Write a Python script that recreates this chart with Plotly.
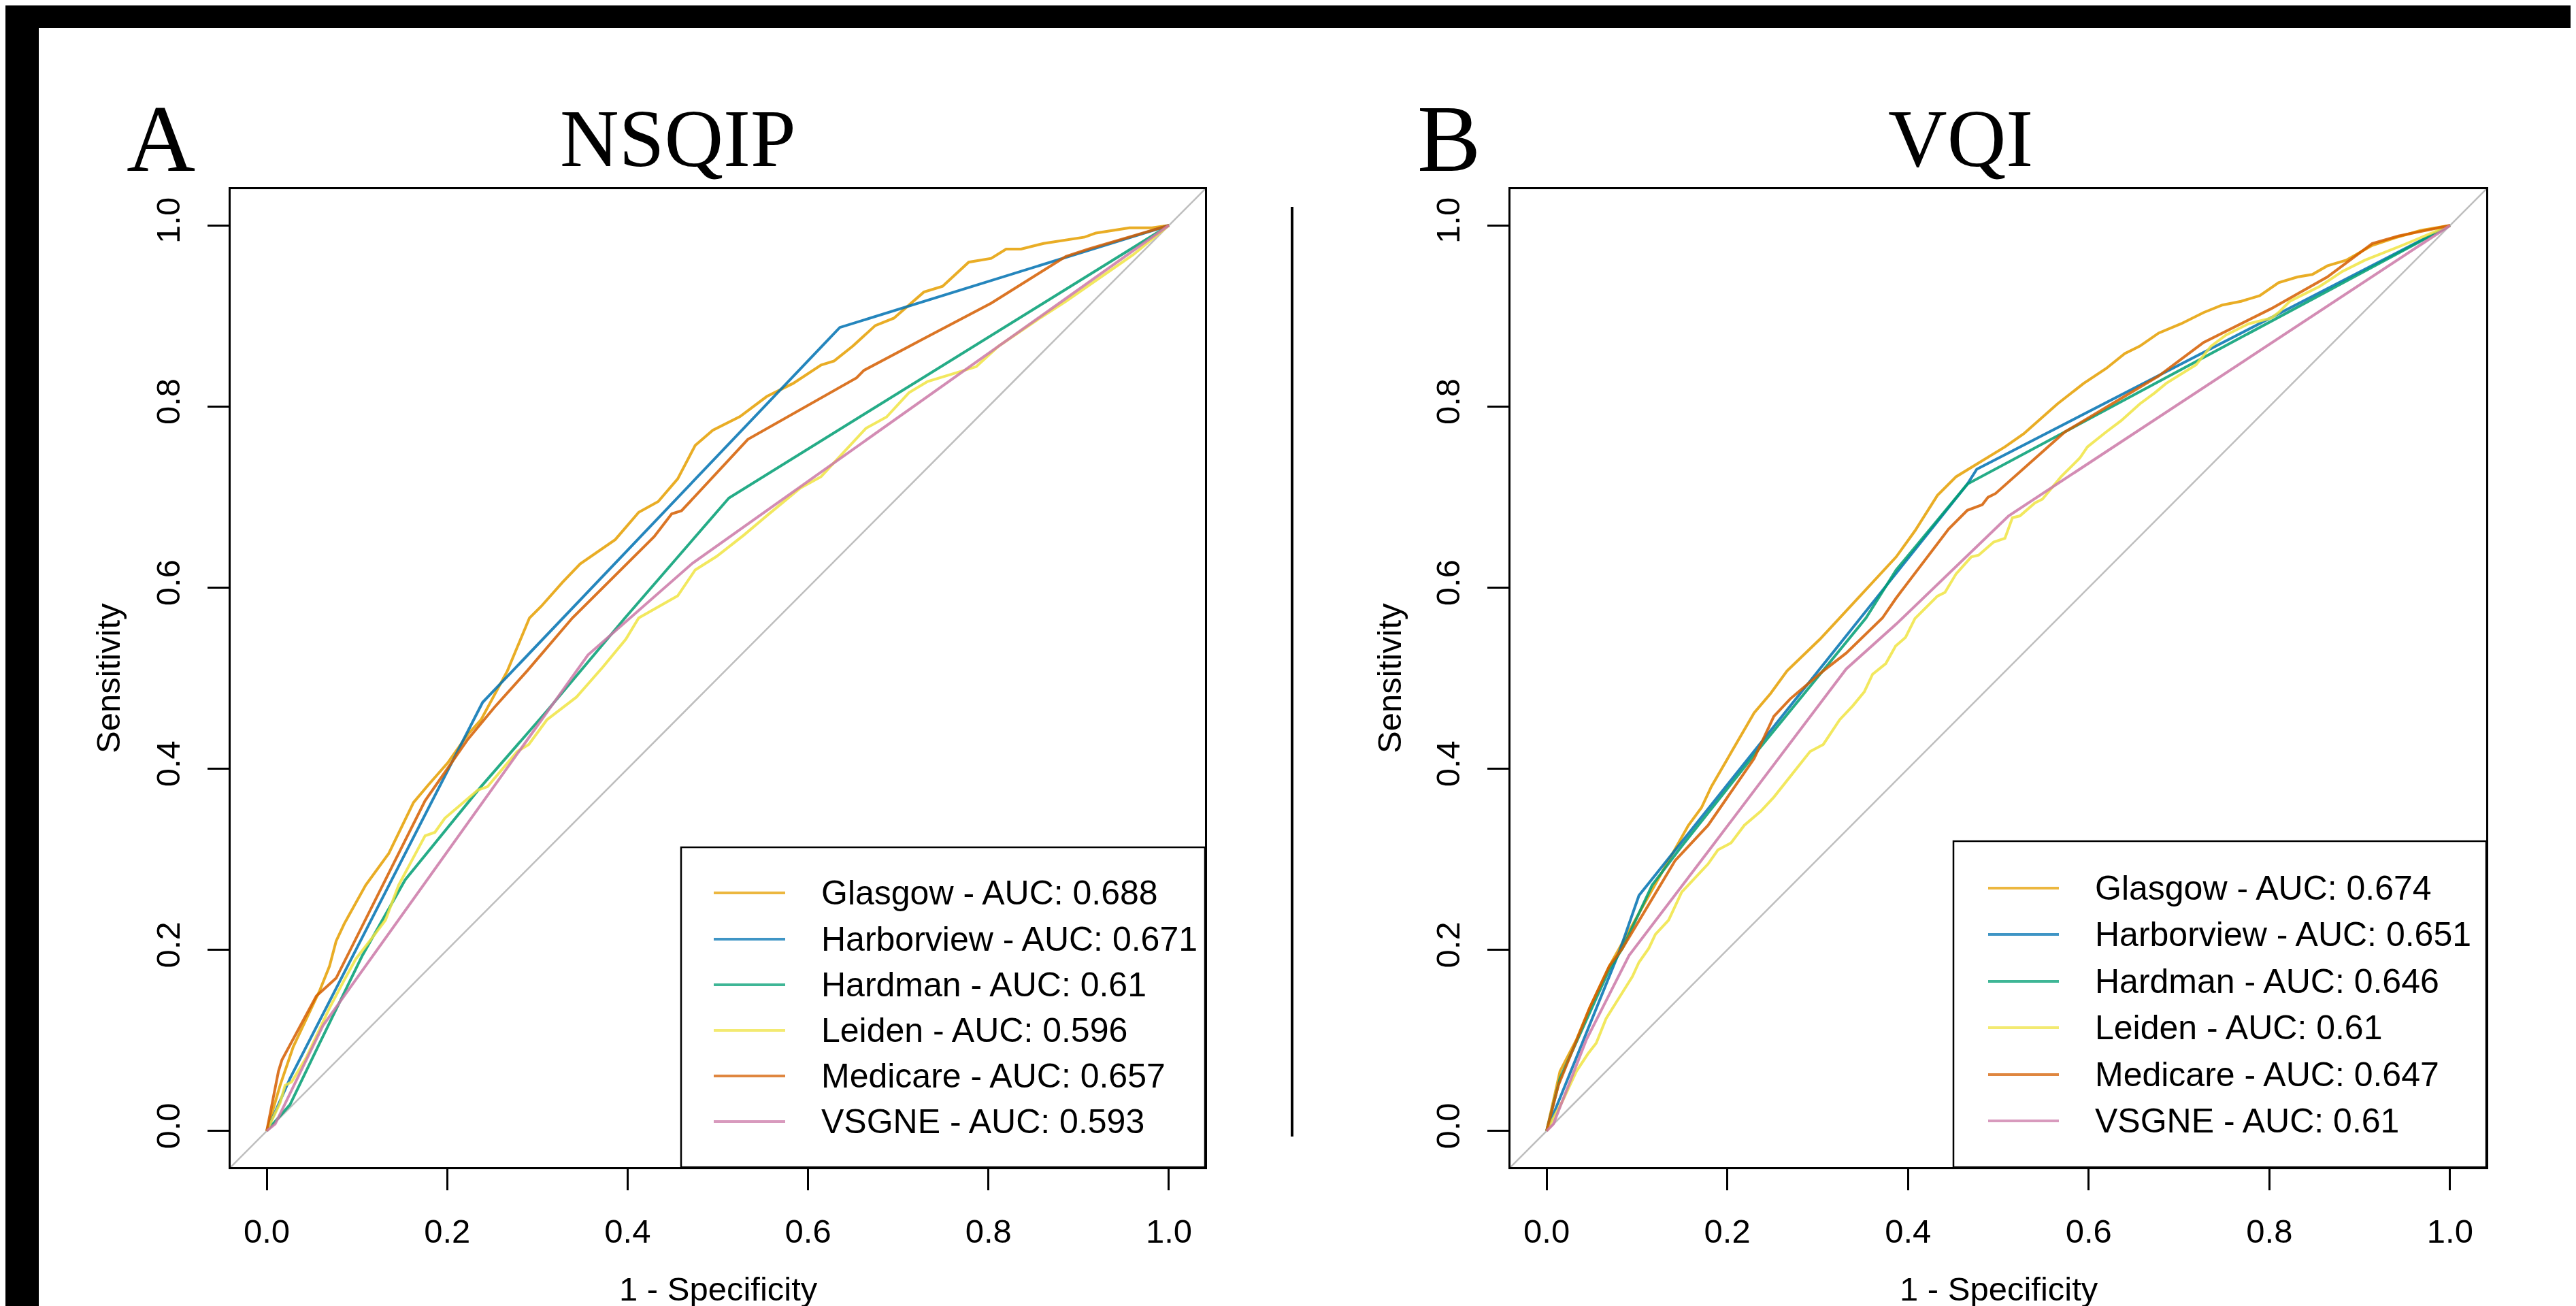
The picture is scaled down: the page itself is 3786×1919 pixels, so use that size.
import plotly.graph_objects as go

W, H = 3786, 1919

# ---------------- data ----------------
models = ["Glasgow", "Harborview", "Hardman", "Leiden", "Medicare", "VSGNE"]
colors = ["#E69F00", "#0072B2", "#009E73", "#F0E442", "#D55E00", "#CC79A7"]
nsqip_auc = ["0.688", "0.671", "0.61", "0.596", "0.657", "0.593"]
vqi_auc = ["0.674", "0.651", "0.646", "0.61", "0.647", "0.61"]
tick_vals = [0.0, 0.2, 0.4, 0.6, 0.8, 1.0]
tick_text = ["0.0", "0.2", "0.4", "0.6", "0.8", "1.0"]

# NSQIP (panel A)
nsqip_glasgow_fpr = [0, 0.0148, 0.0294, 0.044, 0.0587, 0.0696, 0.0769, 0.086, 0.1097, 0.1353, 0.1627, 0.179, 0.201, 0.223, 0.2375, 0.2667, 0.281, 0.2912, 0.3042, 0.328, 0.3474, 0.3863, 0.4123, 0.4339, 0.4555, 0.4749, 0.4944, 0.5246, 0.5543, 0.5834, 0.6145, 0.6289, 0.6496, 0.6745, 0.6952, 0.7284, 0.7491, 0.7781, 0.803, 0.8196, 0.8361, 0.861, 0.9066, 0.919, 0.9563, 0.9812, 1.0]
nsqip_glasgow_sens = [0, 0.0503, 0.093, 0.124, 0.155, 0.182, 0.2095, 0.229, 0.2715, 0.3065, 0.3627, 0.382, 0.407, 0.438, 0.454, 0.508, 0.543, 0.5665, 0.5793, 0.606, 0.6262, 0.653, 0.6832, 0.695, 0.7201, 0.757, 0.7738, 0.7889, 0.8111, 0.8255, 0.8459, 0.8503, 0.8667, 0.8894, 0.8976, 0.9264, 0.9327, 0.9594, 0.9636, 0.9739, 0.9739, 0.9801, 0.9871, 0.9916, 0.9974, 0.9974, 1.0]

nsqip_harborview_fpr = [0, 0.0258, 0.2393, 0.6352, 1.0]
nsqip_harborview_sens = [0, 0.058, 0.4733, 0.8873, 1.0]

nsqip_hardman_fpr = [0, 0.0258, 0.0587, 0.1061, 0.1535, 0.2375, 0.3105, 0.3971, 0.5123, 1.0]
nsqip_hardman_sens = [0, 0.029, 0.097, 0.194, 0.2774, 0.3802, 0.4637, 0.5665, 0.699, 1.0]

nsqip_leiden_fpr = [0, 0.0148, 0.0203, 0.0276, 0.044, 0.0696, 0.086, 0.0988, 0.117, 0.1316, 0.1462, 0.1608, 0.1755, 0.1864, 0.1974, 0.2156, 0.2338, 0.2448, 0.2776, 0.2904, 0.3105, 0.3434, 0.3725, 0.398, 0.4123, 0.4555, 0.4749, 0.4987, 0.529, 0.5549, 0.5916, 0.6144, 0.6372, 0.6642, 0.687, 0.7118, 0.7325, 0.7532, 0.7864, 0.8113, 0.8569, 0.8858, 0.9273, 0.9605, 1.0]
nsqip_leiden_sens = [0, 0.031, 0.0503, 0.0542, 0.0814, 0.1358, 0.1668, 0.190, 0.2134, 0.2328, 0.2715, 0.2987, 0.3259, 0.3298, 0.3453, 0.3608, 0.3763, 0.3802, 0.419, 0.4268, 0.454, 0.4792, 0.5122, 0.543, 0.5665, 0.5909, 0.6195, 0.6345, 0.6581, 0.6799, 0.7101, 0.7225, 0.7472, 0.776, 0.7884, 0.8152, 0.8276, 0.8337, 0.844, 0.8667, 0.8976, 0.9162, 0.945, 0.9677, 1.0]

nsqip_medicare_fpr = [0, 0.013, 0.0168, 0.033, 0.055, 0.0769, 0.1755, 0.223, 0.2521, 0.2886, 0.3388, 0.4295, 0.4489, 0.4598, 0.5333, 0.6538, 0.662, 0.7284, 0.803, 0.8858, 0.9108, 1.0]
nsqip_medicare_sens = [0, 0.0659, 0.0783, 0.1086, 0.149, 0.1687, 0.3647, 0.4326, 0.4675, 0.508, 0.5665, 0.6564, 0.6815, 0.6849, 0.7637, 0.8317, 0.84, 0.875, 0.9141, 0.9657, 0.9739, 1.0]

nsqip_vsgne_fpr = [0, 0.0094, 0.0623, 0.3561, 0.472, 0.626, 1.0]
nsqip_vsgne_sens = [0, 0.0077, 0.1163, 0.5257, 0.627, 0.736, 1.0]

# VQI (panel B)
vqi_glasgow_fpr = [0, 0.0148, 0.033, 0.0476, 0.0694, 0.1569, 0.1714, 0.1823, 0.2297, 0.2479, 0.2661, 0.3025, 0.3243, 0.355, 0.3869, 0.4077, 0.4326, 0.4533, 0.4741, 0.5073, 0.528, 0.5654, 0.5944, 0.6193, 0.64, 0.6566, 0.6774, 0.7023, 0.7272, 0.7479, 0.7687, 0.7894, 0.8102, 0.831, 0.8476, 0.8641, 0.8849, 0.9139, 0.9388, 0.9678, 1.0]
vqi_glasgow_sens = [0, 0.0659, 0.1008, 0.1358, 0.182, 0.3375, 0.357, 0.3802, 0.4617, 0.4831, 0.508, 0.543, 0.5665, 0.60, 0.6339, 0.6627, 0.7019, 0.7225, 0.7349, 0.7554, 0.7699, 0.8029, 0.8255, 0.842, 0.8585, 0.8667, 0.8811, 0.8914, 0.9038, 0.9121, 0.9162, 0.9224, 0.9368, 0.943, 0.9458, 0.9553, 0.9615, 0.978, 0.9862, 0.9945, 1.0]

vqi_harborview_fpr = [0, 0.0804, 0.1022, 0.4657, 0.4761, 1.0]
vqi_harborview_sens = [0, 0.1978, 0.26, 0.7143, 0.7307, 1.0]

vqi_hardman_fpr = [0, 0.0148, 0.0694, 0.084, 0.1168, 0.1495, 0.2297, 0.3535, 0.3869, 0.4657, 1.0]
vqi_hardman_sens = [0, 0.0581, 0.1784, 0.2017, 0.2715, 0.3143, 0.4152, 0.5665, 0.6195, 0.7143, 1.0]

vqi_leiden_fpr = [0, 0.0185, 0.033, 0.0458, 0.0549, 0.0658, 0.0804, 0.095, 0.1022, 0.1131, 0.1204, 0.135, 0.1495, 0.1641, 0.1787, 0.1896, 0.2042, 0.2188, 0.237, 0.2515, 0.2697, 0.2916, 0.3062, 0.3243, 0.3389, 0.3517, 0.3608, 0.3754, 0.3863, 0.3973, 0.4077, 0.4326, 0.4409, 0.4533, 0.47, 0.4782, 0.4948, 0.5073, 0.5156, 0.5239, 0.5405, 0.5488, 0.5695, 0.582, 0.5902, 0.5986, 0.611, 0.6193, 0.6359, 0.6566, 0.6733, 0.6857, 0.7189, 0.7355, 0.7521, 0.777, 0.8019, 0.8102, 0.8226, 0.8392, 0.8558, 0.8683, 0.8807, 0.9056, 0.9264, 0.9471, 1.0]
vqi_leiden_sens = [0, 0.0349, 0.0659, 0.0853, 0.0969, 0.1241, 0.1473, 0.1706, 0.1862, 0.2017, 0.2172, 0.2328, 0.2638, 0.2793, 0.2948, 0.3104, 0.3181, 0.3375, 0.353, 0.3686, 0.3919, 0.419, 0.4268, 0.454, 0.4695, 0.485, 0.5044, 0.5161, 0.5355, 0.5451, 0.5659, 0.5906, 0.5947, 0.6153, 0.6339, 0.6359, 0.6503, 0.6545, 0.6772, 0.6792, 0.6936, 0.6977, 0.7225, 0.7349, 0.7431, 0.7554, 0.7657, 0.7719, 0.7843, 0.8029, 0.8152, 0.8255, 0.8461, 0.8667, 0.8791, 0.8914, 0.8976, 0.9038, 0.9162, 0.9244, 0.9327, 0.9409, 0.9491, 0.9615, 0.9697, 0.978, 1.0]

vqi_medicare_fpr = [0, 0.013, 0.0476, 0.0694, 0.084, 0.1423, 0.1787, 0.2297, 0.2515, 0.2697, 0.3062, 0.3316, 0.3717, 0.3869, 0.445, 0.4657, 0.4823, 0.4886, 0.4969, 0.5736, 0.6774, 0.7272, 0.8019, 0.8641, 0.9139, 0.943, 1.0]
vqi_medicare_sens = [0, 0.0503, 0.1358, 0.182, 0.2017, 0.2987, 0.3375, 0.4113, 0.4578, 0.4772, 0.508, 0.5277, 0.5665, 0.5885, 0.6648, 0.6854, 0.6916, 0.6998, 0.7039, 0.7719, 0.8337, 0.8708, 0.908, 0.943, 0.98, 0.9883, 1.0]

vqi_vsgne_fpr = [0, 0.0075, 0.044, 0.0913, 0.186, 0.3316, 0.3869, 0.5114, 1.0]
vqi_vsgne_sens = [0, 0.0077, 0.1008, 0.1939, 0.3181, 0.5102, 0.5597, 0.6792, 1.0]

nsqip_curves = [
    (nsqip_glasgow_fpr, nsqip_glasgow_sens),
    (nsqip_harborview_fpr, nsqip_harborview_sens),
    (nsqip_hardman_fpr, nsqip_hardman_sens),
    (nsqip_leiden_fpr, nsqip_leiden_sens),
    (nsqip_medicare_fpr, nsqip_medicare_sens),
    (nsqip_vsgne_fpr, nsqip_vsgne_sens),
]
vqi_curves = [
    (vqi_glasgow_fpr, vqi_glasgow_sens),
    (vqi_harborview_fpr, vqi_harborview_sens),
    (vqi_hardman_fpr, vqi_hardman_sens),
    (vqi_leiden_fpr, vqi_leiden_sens),
    (vqi_medicare_fpr, vqi_medicare_sens),
    (vqi_vsgne_fpr, vqi_vsgne_sens),
]

# ---------------- helpers (pixel -> paper) ----------------
def PX(x):
    return x / W


def PY(y):
    return 1 - y / H


SANS = "Liberation Sans, Arial, Helvetica, sans-serif"
SERIF = "Liberation Serif, Times New Roman, serif"
LINE_W = 4
OPAC = 0.85
DIAG = "#BEBEBE"

fig = go.Figure()

panels = [
    dict(xa="x", ya="y", curves=nsqip_curves),
    dict(xa="x2", ya="y2", curves=vqi_curves),
]
for p in panels:
    fig.add_trace(go.Scatter(x=[-0.04, 1.04], y=[-0.04, 1.04], mode="lines",
                             line=dict(color=DIAG, width=2.5), xaxis=p["xa"], yaxis=p["ya"],
                             hoverinfo="skip", showlegend=False))
    for (fx, sy), name, col in zip(p["curves"], models, colors):
        fig.add_trace(go.Scatter(x=fx, y=sy, mode="lines", name=name,
                                 line=dict(color=col, width=LINE_W), opacity=OPAC,
                                 xaxis=p["xa"], yaxis=p["ya"], showlegend=False))

axis_common = dict(
    range=[-0.04, 1.04], showgrid=False, zeroline=False, showline=True, mirror=True,
    linecolor="black", linewidth=2.5, ticks="outside", ticklen=31, tickwidth=2.5,
    tickcolor="black", tickmode="array", tickvals=tick_vals, ticktext=tick_text,
    tickfont=dict(family=SANS, size=49, color="black"),
)
ydom = [PY(1707), PY(270)]
fig.update_layout(
    width=W, height=H, margin=dict(l=0, r=0, t=0, b=0),
    paper_bgcolor="white", plot_bgcolor="white", showlegend=False,
    xaxis=dict(domain=[PX(331), PX(1763)], anchor="y", ticklabelstandoff=18, **axis_common),
    yaxis=dict(domain=ydom, anchor="x", tickangle=-90, ticklabelstandoff=22, **axis_common),
    xaxis2=dict(domain=[PX(2212), PX(3646)], anchor="y2", ticklabelstandoff=18, **axis_common),
    yaxis2=dict(domain=ydom, anchor="x2", tickangle=-90, ticklabelstandoff=22, **axis_common),
)

shapes = []
annos = []
# black frame bands of the original figure
shapes.append(dict(type="rect", xref="paper", yref="paper", x0=0, x1=1, y0=PY(33), y1=1,
                   fillcolor="black", line=dict(width=0), layer="above"))
shapes.append(dict(type="rect", xref="paper", yref="paper", x0=0, x1=PX(49), y0=0, y1=1,
                   fillcolor="black", line=dict(width=0), layer="above"))
# vertical separator
shapes.append(dict(type="line", xref="paper", yref="paper", x0=PX(1891), x1=PX(1891),
                   y0=PY(296), y1=PY(1662), line=dict(color="black", width=4)))

# panel labels and titles
for txt, cx, size in [("A", 228, 140), ("NSQIP", 989, 120), ("B", 2121, 140), ("VQI", 2873, 120)]:
    annos.append(dict(text=txt, x=PX(cx), y=PY(196), xref="paper", yref="paper",
                      xanchor="center", yanchor="middle", showarrow=False,
                      font=dict(family=SERIF, size=size, color="black")))

# axis titles
for cx in [1048, 2930]:
    annos.append(dict(text="1 - Specificity", x=PX(cx), y=PY(1886), xref="paper", yref="paper",
                      xanchor="center", yanchor="middle", showarrow=False,
                      font=dict(family=SANS, size=49, color="black")))
for cx in [151, 2034]:
    annos.append(dict(text="Sensitivity", x=PX(cx), y=PY(989), xref="paper", yref="paper",
                      xanchor="center", yanchor="middle", showarrow=False, textangle=-90,
                      font=dict(family=SANS, size=49, color="black")))

# legends (drawn as boxes, line samples and text)
legends = [
    dict(box=(993, 1237, 1763, 1707), line=(1041, 1146), tx=1197,
         rows=[1304, 1372, 1439, 1506, 1573, 1640], aucs=nsqip_auc),
    dict(box=(2863, 1228, 3646, 1707), line=(2914, 3018), tx=3069,
         rows=[1297, 1365, 1434, 1502, 1571, 1639], aucs=vqi_auc),
]
for lg in legends:
    bx0, by0, bx1, by1 = lg["box"]
    shapes.append(dict(type="rect", xref="paper", yref="paper", x0=PX(bx0), x1=PX(bx1),
                       y0=PY(by1), y1=PY(by0), fillcolor="white",
                       line=dict(color="black", width=2.5), layer="above"))
    for name, col, auc, ry in zip(models, colors, lg["aucs"], lg["rows"]):
        shapes.append(dict(type="line", xref="paper", yref="paper", x0=PX(lg["line"][0]),
                           x1=PX(lg["line"][1]), y0=PY(ry), y1=PY(ry), opacity=0.75,
                           line=dict(color=col, width=4), layer="above"))
        annos.append(dict(text=f"{name} - AUC: {auc}", x=PX(lg["tx"]), y=PY(ry),
                          xref="paper", yref="paper", xanchor="left", yanchor="middle",
                          showarrow=False, font=dict(family=SANS, size=50, color="black")))

fig.update_layout(shapes=shapes, annotations=annos)
fig.write_html("out.html")
